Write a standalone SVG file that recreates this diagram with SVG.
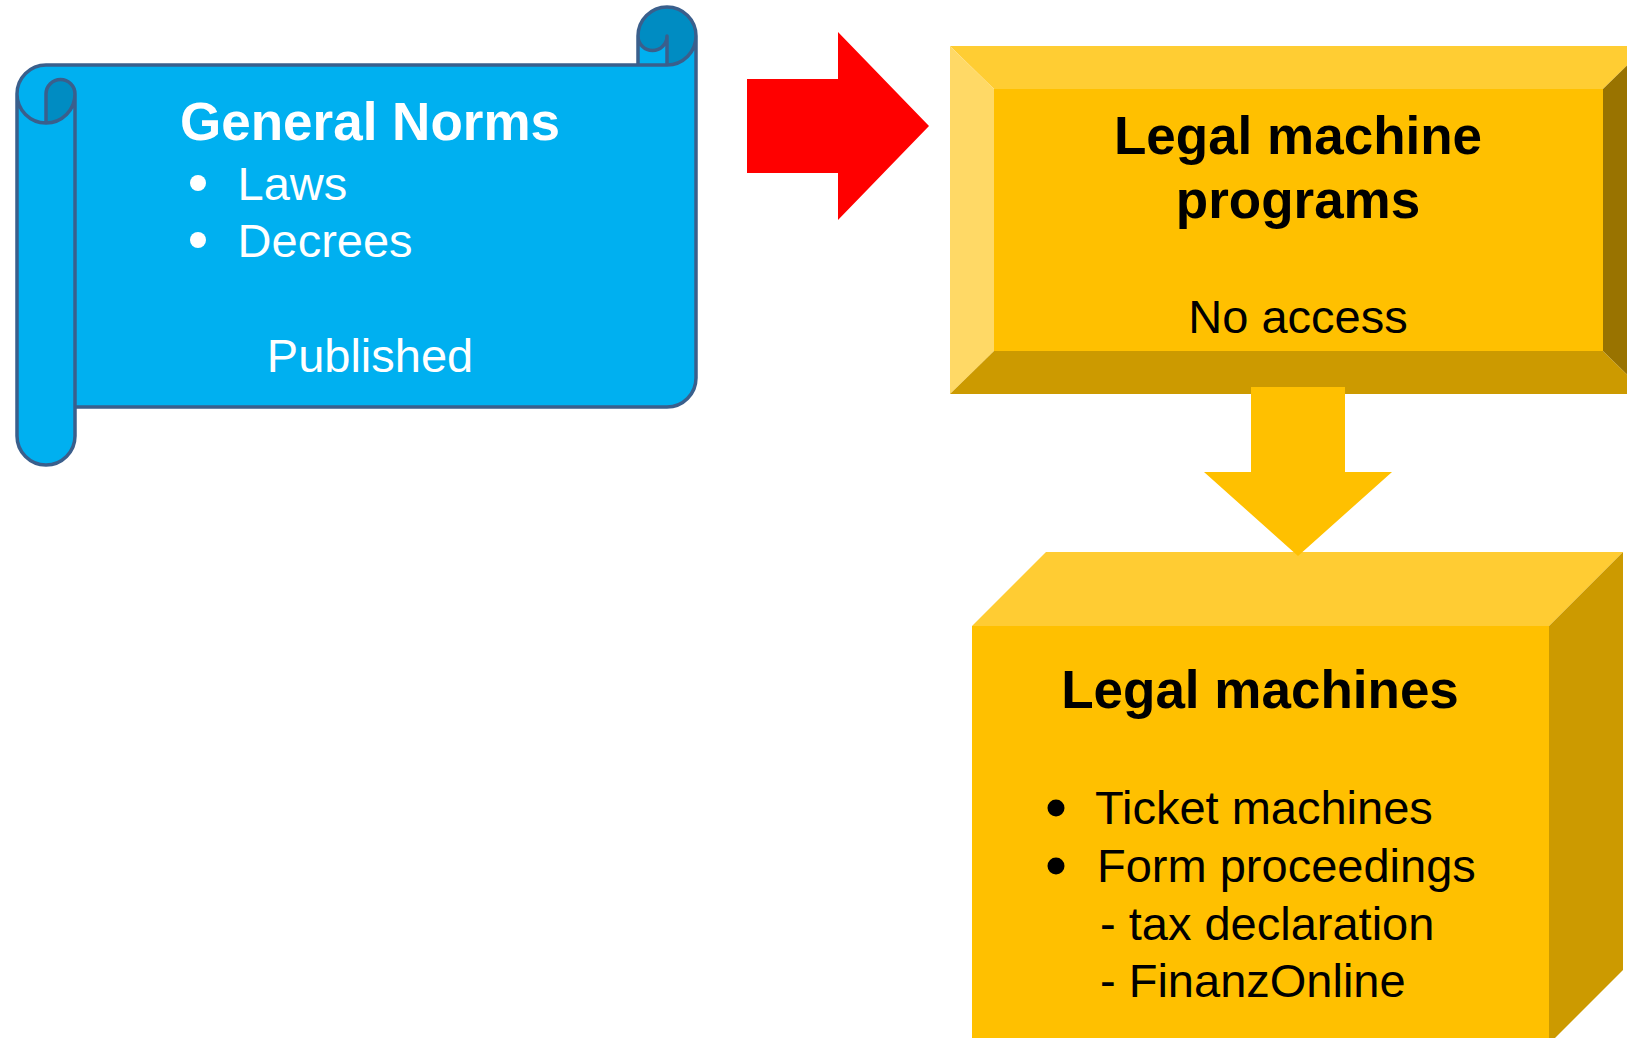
<svg xmlns="http://www.w3.org/2000/svg" width="1627" height="1038" viewBox="0 0 1627 1038">
<style>
text{font-family:"Liberation Sans",Arial,sans-serif;}
.t{font-size:53px;font-weight:bold;}
.b{font-size:47px;}
.w{fill:#ffffff;}
.k{fill:#000000;}
.scroll-line{fill:none;stroke:#3A5F8C;stroke-width:3.5;stroke-linejoin:round;}
</style>
<rect width="1627" height="1038" fill="#ffffff"/>

<g id="general-norms">
  <path fill="#00B0F0" d="M696,36 A29,29 0 0 1 667,65 L667,36 A14.5,14.5 0 0 1 638,36 L638,65 L46,65 A29,29 0 0 0 17,94 L17,436 A29,29 0 0 0 75,436 L75,407 L667,407 A29,29 0 0 0 696,378 Z"/>
  <path fill="#008CC2" d="M46,123 A29,29 0 0 0 75,94 A14.5,14.5 0 0 0 46,94 Z M667,65 A29,29 0 1 0 638,36 A14.5,14.5 0 0 0 667,36 Z"/>
  <path class="scroll-line" d="M17,94 A29,29 0 0 1 46,65 L638,65 L638,36 A29,29 0 0 1 696,36 L696,378 A29,29 0 0 1 667,407 L75,407 L75,436 A29,29 0 0 1 17,436 Z M638,65 L667,65 A29,29 0 0 0 696,36 M667,65 L667,36 A14.5,14.5 0 0 1 638,36 M46,123 L46,94 A14.5,14.5 0 0 1 75,94 A29,29 0 0 1 17,94 M75,94 L75,407"/>
  <text class="t w" x="370" y="140" text-anchor="middle">General Norms</text>
  <circle cx="198" cy="183" r="8" fill="#ffffff"/>
  <text class="b w" x="237.6" y="200">Laws</text>
  <circle cx="198" cy="240" r="8" fill="#ffffff"/>
  <text class="b w" x="237.6" y="257">Decrees</text>
  <text class="b w" x="370" y="372" text-anchor="middle">Published</text>
</g>

<g id="legal-machine-programs">
  <rect x="994" y="89" width="609" height="262" fill="#FFC000"/>
  <polygon points="950,46 1647,46 1603,89 994,89" fill="#FFCD33"/>
  <polygon points="950,46 994,89 994,351 950,394" fill="#FFD966"/>
  <polygon points="950,394 994,351 1603,351 1647,394" fill="#CC9A00"/>
  <polygon points="1647,46 1603,89 1603,351 1647,394" fill="#997300"/>
  <text class="t k" x="1298" y="154" text-anchor="middle">Legal machine</text>
  <text class="t k" x="1298" y="218" text-anchor="middle">programs</text>
  <text class="b k" x="1298" y="333" text-anchor="middle">No access</text>
</g>

<g id="legal-machines">
  <rect x="972" y="626" width="577" height="418" fill="#FFC000"/>
  <polygon points="972,626 1046,552 1623,552 1549,626" fill="#FFCC33"/>
  <polygon points="1549,626 1623,552 1623,970 1549,1044" fill="#CC9A00"/>
  <text class="t k" x="1260" y="708" text-anchor="middle">Legal machines</text>
  <circle cx="1056" cy="808" r="8.5" fill="#000000"/>
  <text class="b k" x="1095" y="824">Ticket machines</text>
  <circle cx="1056" cy="866" r="8.5" fill="#000000"/>
  <text class="b k" x="1097" y="882">Form proceedings</text>
  <text class="b k" x="1100" y="940">- tax declaration</text>
  <text class="b k" x="1100" y="997">- FinanzOnline</text>
</g>

<g id="connectors">
  <polygon points="747,79 838,79 838,32 929,126 838,220 838,173 747,173" fill="#FF0000"/>
  <polygon points="1251,387 1345,387 1345,472 1392,472 1298,556 1204,472 1251,472" fill="#FFC000"/>
</g>
</svg>
